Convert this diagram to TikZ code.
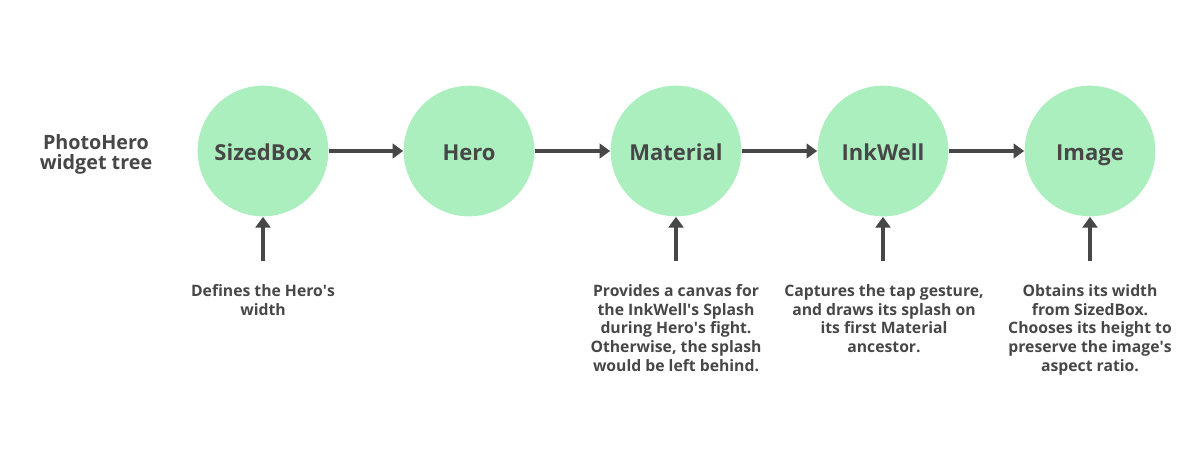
\documentclass[tikz,border=0pt]{standalone}
\usepackage{fontspec}
\setmainfont{Open Sans}
\usetikzlibrary{arrows.meta}

\definecolor{inkgray}{RGB}{71,71,71}
\definecolor{mint}{RGB}{171,239,190}

\newcommand{\apos}{\textquotesingle}

\tikzset{every picture/.style={line width=0.75pt}}
\tikzset{
  widget/.style={circle,fill=mint,minimum size=98pt,inner sep=0pt,text height=13.5pt,text depth=0pt,text=inkgray,font=\bfseries\fontsize{16.5}{19}\selectfont},
  note/.style={anchor=north,inner sep=0pt,align=center,text=inkgray,font=\bfseries\fontsize{11.8}{14}\selectfont},
  flow/.style={draw=inkgray,line width=3.6pt,-{Triangle[length=8pt,width=11pt]}}
}

\begin{document}
\begin{tikzpicture}[x=0.75pt,y=0.75pt,yscale=-1,xscale=1]
\useasboundingbox (0,0) rectangle (1195,458);

% Title
\node [inner sep=0pt,align=center,text=inkgray,font=\bfseries\fontsize{14.8}{15}\selectfont] (title) at (96,154) {PhotoHero\\widget tree};

% Circles
\node [widget] (sizedbox) at (263,151) {SizedBox};
\node [widget] (hero) at (469,151) {Hero};
\node [widget] (material) at (676,151) {Material};
\node [widget] (inkwell) at (883,151) {InkWell};
\node [widget] (image) at (1090,151) {Image};

% Tree arrows
\draw [flow] (sizedbox) -- (hero);
\draw [flow] (hero) -- (material);
\draw [flow] (material) -- (inkwell);
\draw [flow] (inkwell) -- (image);

% Arrow tails
\coordinate (sizedboxtail) at (263,261);
\coordinate (materialtail) at (676,261);
\coordinate (inkwelltail) at (883,261);
\coordinate (imagetail) at (1090,261);

\draw [flow] (sizedboxtail) -- (sizedbox);
\draw [flow] (materialtail) -- (material);
\draw [flow] (inkwelltail) -- (inkwell);
\draw [flow] (imagetail) -- (image);

% Text Node
\node [note] (sizedboxnote) at (263,284) {Defines the Hero\apos s\\width};
% Text Node
\node [note] (materialnote) at (676,284) {Provides a canvas for\\the InkWell\apos s Splash\\during Hero\apos s fight.\\Otherwise, the splash\\would be left behind.};
% Text Node
\node [note] (inkwellnote) at (884,284) {Captures the tap gesture,\\and draws its splash on\\its first Material\\ancestor.};
% Text Node
\node [note] (imagenote) at (1090,284) {Obtains its width\\from SizedBox.\\Chooses its height to\\preserve the image\apos s\\aspect ratio.};

\end{tikzpicture}
\end{document}
